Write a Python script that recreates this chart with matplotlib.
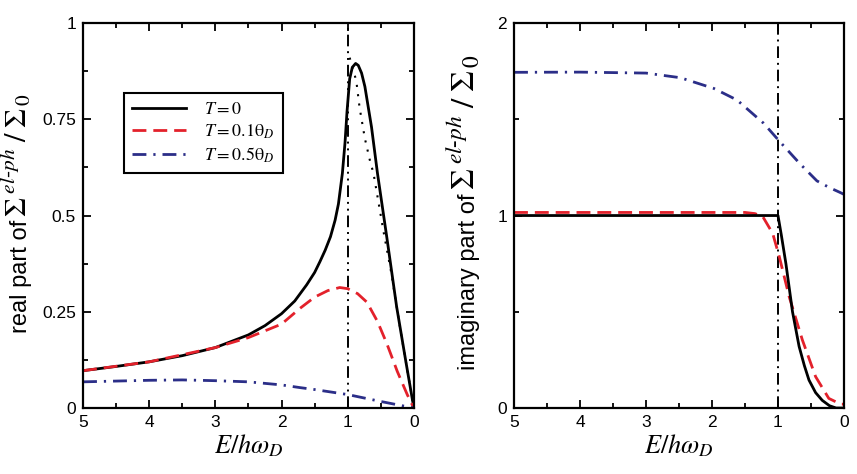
import matplotlib
matplotlib.use("Agg")
import matplotlib.pyplot as plt
from matplotlib.ticker import MultipleLocator

plt.rcParams['font.family'] = ['Liberation Sans', 'DejaVu Sans']
plt.rcParams['mathtext.fontset'] = 'stix'

# --- data ---
E_debye = 1.0

# real part (left panel)
E_re0 = [5, 4.5, 4, 3.5, 3, 2.5, 2.25, 2, 1.8, 1.62, 1.5, 1.42, 1.34, 1.26, 1.19,
         1.14, 1.08, 1.04, 1.01, 0.97, 0.93, 0.88, 0.84, 0.79, 0.74, 0.64, 0.55,
         0.41, 0.26, 0.12, 0]
re0 = [0.097, 0.108, 0.12, 0.136, 0.157, 0.19, 0.214, 0.245, 0.278, 0.32, 0.352,
       0.38, 0.41, 0.445, 0.488, 0.53, 0.61, 0.69, 0.77, 0.855, 0.885, 0.895,
       0.89, 0.87, 0.835, 0.73, 0.61, 0.445, 0.263, 0.12, 0.0]

E_re1 = [5, 4, 3, 2.5, 2, 1.72, 1.5, 1.3, 1.12, 1.0, 0.85, 0.71, 0.55, 0.41, 0.25, 0.1, 0]
re1 = [0.097, 0.12, 0.157, 0.183, 0.218, 0.259, 0.288, 0.305, 0.313, 0.31, 0.297,
       0.275, 0.225, 0.168, 0.095, 0.035, 0.0]

E_re5 = [5, 4, 3.5, 3, 2.5, 2, 1.72, 1.5, 1, 0.5, 0]
re5 = [0.068, 0.072, 0.073, 0.071, 0.068, 0.06, 0.053, 0.048, 0.035, 0.017, 0.0]

E_dot = [0.97, 0.87, 0.82, 0.74, 0.66, 0.61, 0.46, 0.34, 0.2, 0]
re_dot = [0.91, 0.85, 0.78, 0.70, 0.64, 0.61, 0.46, 0.35, 0.2, 0.0]

# imaginary part (right panel)
E_im0 = [5, 1.0, 0.95, 0.88, 0.78, 0.68, 0.6, 0.53, 0.43, 0.33, 0.22, 0.12, 0]
im0 = [1.0, 1.0, 0.90, 0.75, 0.50, 0.32, 0.22, 0.145, 0.08, 0.04, 0.012, 0.0, 0.0]

E_im1 = [5, 1.5, 1.35, 1.23, 1.08, 0.98, 0.83, 0.63, 0.43, 0.23, 0.05, 0]
im1 = [1.016, 1.016, 1.01, 0.994, 0.907, 0.786, 0.578, 0.353, 0.163, 0.05, 0.02, 0.02]

E_im5 = [5, 4, 3, 2.48, 1.97, 1.62, 1.22, 0.97, 0.67, 0.41, 0.22, 0.06, 0]
im5 = [1.744, 1.745, 1.74, 1.716, 1.66, 1.60, 1.48, 1.383, 1.27, 1.18, 1.145, 1.12, 1.11]

labels = [r'$T = 0$', r'$T = 0.1\mathrm{θ}_D$', r'$T = 0.5\mathrm{θ}_D$']
ylab_math = r'$\Sigma^{\;el\text{-}ph}\;/\;\Sigma_{\,0}$'
red = '#e3212b'
blue = '#2b2e88'

W, H = 857, 474
fig = plt.figure(figsize=(W / 100, H / 100), dpi=100)
ax1 = fig.add_axes([0.0969, 0.1392, 0.386, 0.8122])
ax2 = fig.add_axes([0.5998, 0.1392, 0.385, 0.8122])


def style(ax, ymax, ymajor, yminor):
    ax.set_xlim(5, 0)
    ax.set_ylim(0, ymax)
    ax.xaxis.set_major_locator(MultipleLocator(1))
    ax.xaxis.set_minor_locator(MultipleLocator(0.5))
    ax.yaxis.set_major_locator(MultipleLocator(ymajor))
    ax.yaxis.set_minor_locator(MultipleLocator(yminor))
    ax.tick_params(which='both', direction='in', top=True, right=True,
                   labelsize=12.5, width=1.3, pad=5)
    ax.tick_params(which='major', length=6)
    ax.tick_params(which='minor', length=3.5)
    for s in ax.spines.values():
        s.set_linewidth(1.6)
    ax.set_xlabel(r'$E/h\omega_D$', fontsize=19, labelpad=2)


def vlabel(x_px, y_px, parts):
    # vertical label made of pieces with different sizes (pixels from bottom-left)
    renderer = fig.canvas.get_renderer()
    y = y_px
    for s, size in parts:
        t = fig.text(x_px / W, y / H, s, rotation=90, rotation_mode='anchor',
                     ha='left', va='baseline', fontsize=size)
        y += t.get_window_extent(renderer).height + 3


# left panel
style(ax1, 1, 0.25, 0.125)
ax1.set_yticks([0, 0.25, 0.5, 0.75, 1])
ax1.set_yticklabels(['0', '0.25', '0.5', '0.75', '1'])
ax1.axvline(E_debye, color='black', lw=1.4, dashes=(6, 2.5, 1, 2.5, 1, 2.5))
ax1.plot(E_dot, re_dot, color='black', lw=1.5, dashes=(1, 3.5))
l0, = ax1.plot(E_re0, re0, color='black', lw=2.0)
l1, = ax1.plot(E_re1, re1, color=red, lw=2.0, dashes=(5, 2.5))
l2, = ax1.plot(E_re5, re5, color=blue, lw=2.0, dashes=(5, 2.5, 0.8, 2.5))
leg = ax1.legend([l0, l1, l2], labels, loc='upper left',
                 bbox_to_anchor=(0.124, 0.818), borderaxespad=0,
                 fontsize=13, handlelength=3.0, handletextpad=1.0,
                 labelspacing=0.25, fancybox=False, framealpha=1,
                 edgecolor='black', borderpad=0.45)
leg.get_frame().set_linewidth(1.5)

# right panel
style(ax2, 2, 1, 0.5)
ax2.set_yticks([0, 1, 2])
ax2.set_yticklabels(['0', '1', '2'])
ax2.axvline(E_debye, color='black', lw=1.4, dashes=(6, 2.5, 1, 2.5))
ax2.plot(E_im5, im5, color=blue, lw=2.0, dashes=(5, 2.5, 0.8, 2.5))
ax2.plot(E_im1, im1, color=red, lw=2.0, dashes=(5, 2.5))
ax2.plot(E_im0, im0, color='black', lw=2.0)

vlabel(27, H - 333, [('real part of', 17), (ylab_math, 22)])
vlabel(475, H - 370, [('imaginary part of', 17), (ylab_math, 24)])

fig.savefig('out.png', dpi=100)
